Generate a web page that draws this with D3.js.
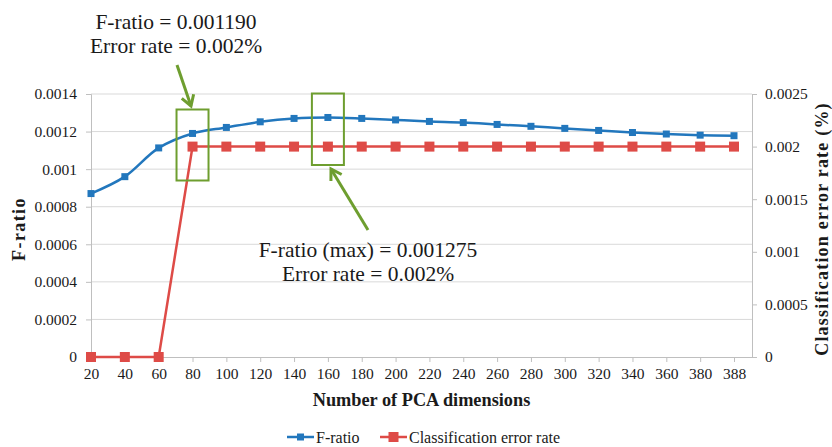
<!DOCTYPE html>
<html>
<head>
<meta charset="utf-8">
<script src="https://cdn.jsdelivr.net/npm/d3@7"></script>
<style>
  body { margin: 0; background: #fff; }
  text { font-family: "Liberation Serif", "Times New Roman", serif; fill: #1a1a1a; }
</style>
</head>
<body>
<div id="chart"></div>
<script>
const dims = ["20", "40", "60", "80", "100", "120", "140", "160", "180", "200",
              "220", "240", "260", "280", "300", "320", "340", "360", "380", "388"];
const fRatio = [0.00087, 0.00096, 0.001113, 0.00119, 0.001222, 0.001252, 0.00127, 0.001275, 0.00127, 0.001262,
                0.001254, 0.001248, 0.001238, 0.001228, 0.001217, 0.001206, 0.001195, 0.001187, 0.001181, 0.001178];
const errorRate = [0, 0, 0, 0.002, 0.002, 0.002, 0.002, 0.002, 0.002, 0.002,
                   0.002, 0.002, 0.002, 0.002, 0.002, 0.002, 0.002, 0.002, 0.002, 0.002];
const leftTicks = [0, 0.0002, 0.0004, 0.0006, 0.0008, 0.001, 0.0012, 0.0014];
const rightTicks = [0, 0.0005, 0.001, 0.0015, 0.002, 0.0025];

const width = 832, height = 447;
const pLeft = 91, pRight = 752, pTop = 94, pBottom = 357;
const blue = "#2277BD", red = "#DE4B47", green = "#6E9E2F";

const svg = d3.select("#chart")
    .append("svg")
    .attr("width", width)
    .attr("height", height);

const x = d3.scalePoint().domain(dims).range([pLeft, 734]);
const yL = d3.scaleLinear().domain([0, 0.0014]).range([pBottom, pTop]);
const yR = d3.scaleLinear().domain([0, 0.0025]).range([pBottom, pTop]);

// gridlines
svg.append("g")
    .selectAll("line")
    .data(leftTicks.slice(1))
    .enter()
    .append("line")
    .attr("x1", pLeft).attr("x2", pRight)
    .attr("y1", d => yL(d)).attr("y2", d => yL(d))
    .attr("stroke", "#d9d9d9");

const fmt = d => String(+d.toFixed(4));

function styleAxis(g) {
    g.select(".domain").attr("stroke", "#bfbfbf");
    g.selectAll(".tick line").attr("stroke", "#bfbfbf");
    g.selectAll("text")
        .style("font-size", "15.5px")
        .style("font-family", "Liberation Serif")
        .attr("fill", "#1a1a1a");
}

// left axis
const gL = svg.append("g")
    .attr("transform", `translate(${pLeft},0)`)
    .call(d3.axisLeft(yL).tickValues(leftTicks).tickSize(5).tickPadding(9).tickFormat(fmt));
styleAxis(gL);

// right axis
const gR = svg.append("g")
    .attr("transform", `translate(${pRight},0)`)
    .call(d3.axisRight(yR).tickValues(rightTicks).tickSize(5).tickPadding(8).tickFormat(fmt));
styleAxis(gR);

// bottom axis
const gB = svg.append("g")
    .attr("transform", `translate(0,${pBottom})`)
    .call(d3.axisBottom(x).tickSize(5).tickPadding(6).tickSizeOuter(0));
styleAxis(gB);
gB.select(".domain").attr("d", `M${pLeft},0.5H${pRight}`);

// axis titles
svg.append("text")
    .attr("transform", `translate(25,229) rotate(-90)`)
    .attr("text-anchor", "middle")
    .style("font-size", "18px").style("font-weight", "bold").style("letter-spacing", "1.4px")
    .text("F-ratio");
svg.append("text")
    .attr("transform", `translate(828,229) rotate(-90)`)
    .attr("text-anchor", "middle")
    .style("font-size", "18px").style("font-weight", "bold").style("letter-spacing", "1.2px")
    .text("Classification error rate (%)");
svg.append("text")
    .attr("x", (pLeft + pRight) / 2).attr("y", 406)
    .attr("text-anchor", "middle")
    .style("font-size", "18.3px").style("font-weight", "bold")
    .text("Number of PCA dimensions");

// error-rate series
const redLine = d3.line().x((d, i) => x(dims[i])).y(d => yR(d));
svg.append("path")
    .attr("d", redLine(errorRate))
    .attr("fill", "none").attr("stroke", red).attr("stroke-width", 2.5);
svg.append("g").selectAll("rect")
    .data(errorRate)
    .enter()
    .append("rect")
    .attr("x", (d, i) => x(dims[i]) - 5).attr("y", d => yR(d) - 5)
    .attr("width", 10).attr("height", 10)
    .attr("fill", red);

// F-ratio series (smoothed)
const blueLine = d3.line().x((d, i) => x(dims[i])).y(d => yL(d)).curve(d3.curveCatmullRom.alpha(0.5));
svg.append("path")
    .attr("d", blueLine(fRatio))
    .attr("fill", "none").attr("stroke", blue).attr("stroke-width", 2.5);
svg.append("g").selectAll("rect")
    .data(fRatio)
    .enter()
    .append("rect")
    .attr("x", (d, i) => x(dims[i]) - 3.5).attr("y", d => yL(d) - 3.5)
    .attr("width", 7).attr("height", 7)
    .attr("fill", blue);

// annotation boxes
function box(cat, y1, y2) {
    const cx = x(cat);
    svg.append("rect")
        .attr("x", cx - 16).attr("y", y1)
        .attr("width", 32).attr("height", y2 - y1)
        .attr("fill", "none").attr("stroke", green).attr("stroke-width", 2);
}
box("80", 109.5, 180.5);
box("160", 93.5, 165);

function arrow(x1, y1, x2, y2) {
    svg.append("line")
        .attr("x1", x1).attr("y1", y1).attr("x2", x2).attr("y2", y2)
        .attr("stroke", green).attr("stroke-width", 3);
    const a = Math.atan2(y2 - y1, x2 - x1);
    const len = 12, sp = 0.55;
    const p = [a + Math.PI - sp, a + Math.PI + sp].map(t => [x2 + len * Math.cos(t), y2 + len * Math.sin(t)]);
    svg.append("path")
        .attr("d", `M${p[0][0]},${p[0][1]}L${x2},${y2}L${p[1][0]},${p[1][1]}`)
        .attr("fill", "none").attr("stroke", green).attr("stroke-width", 3)
        .attr("stroke-linejoin", "miter");
}
arrow(177, 65, 191, 106);
arrow(368, 230, 331, 169);

function note(cx, y, lines) {
    lines.forEach((t, i) => {
        svg.append("text")
            .attr("x", cx).attr("y", y + i * 24)
            .attr("text-anchor", "middle")
            .style("font-size", "21.5px")
            .text(t);
    });
}
note(176, 29, ["F-ratio = 0.001190", "Error rate = 0.002%"]);
note(368, 257, ["F-ratio (max) = 0.001275", "Error rate = 0.002%"]);

// legend
const legend = svg.append("g").attr("transform", "translate(0,437)");
const items = [
    { label: "F-ratio", color: blue, x0: 287, m: 7 },
    { label: "Classification error rate", color: red, x0: 380, m: 10 }
];
items.forEach(it => {
    legend.append("line")
        .attr("x1", it.x0).attr("x2", it.x0 + 27)
        .attr("stroke", it.color).attr("stroke-width", 2.5);
    legend.append("rect")
        .attr("x", it.x0 + 13.5 - it.m / 2).attr("y", -it.m / 2)
        .attr("width", it.m).attr("height", it.m)
        .attr("fill", it.color);
    legend.append("text")
        .attr("x", it.x0 + 29).attr("y", 5.5)
        .style("font-size", "16px")
        .text(it.label);
});
</script>
</body>
</html>
